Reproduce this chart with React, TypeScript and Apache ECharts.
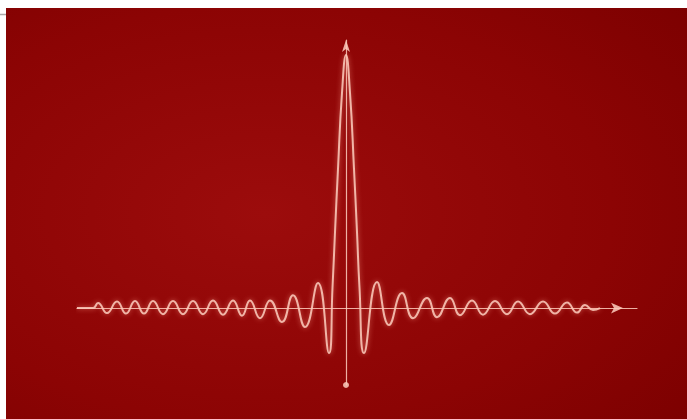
import React, { useEffect, useRef } from "react";
import * as echarts from "echarts";

// Wave: position along the axis, height (main peak = 1)
const waveT = [
  -26.9, -25.3, -24.8, -23.9, -22.9, -22.0, -21.1, -20.2, -19.3, -18.3, -17.3, -16.3,
  -15.3, -14.3, -13.3, -12.3, -11.3, -10.4, -9.6, -8.6, -7.6, -6.4, -5.3, -4.1, -2.8,
  -1.7, -1.35, -1.1, -0.8, -0.4, 0, 0.4, 0.8, 1.1, 1.35, 1.8, 3.1, 4.3, 5.6, 6.7, 8.1,
  9.1, 10.4, 11.4, 12.6, 13.7, 14.9, 16.1, 17.2, 18.4, 19.7, 20.9, 22.1, 23.1, 23.9,
  24.7, 25.4,
];
const waveY = [
  0, 0, 0.02, -0.02, 0.026, -0.022, 0.028, -0.022, 0.028, -0.024, 0.028, -0.024,
  0.028, -0.024, 0.03, -0.026, 0.03, -0.03, 0.03, -0.04, 0.03, -0.055, 0.051, -0.075,
  0.099, -0.178, 0.08, 0.3, 0.55, 0.85, 1.0, 0.85, 0.55, 0.3, 0.08, -0.178, 0.103,
  -0.067, 0.059, -0.04, 0.04, -0.036, 0.04, -0.028, 0.03, -0.026, 0.028, -0.024,
  0.026, -0.024, 0.026, -0.022, 0.022, -0.018, 0.012, -0.008, 0,
];
const tRange = [-26.9, 29.1];
const yRange = [-0.304, 1.059];

export default function App() {
  const ref = useRef<HTMLDivElement>(null);
  useEffect(() => {
    document.body.style.margin = "0";
    const chart = echarts.init(ref.current!, null, { renderer: "svg" });
    const lineColor = "rgba(250,200,185,0.88)";
    chart.setOption({
      animation: false,
      graphic: [
        {
          type: "rect",
          z: -10,
          shape: { x: 6, y: 8, width: 681, height: 411 },
          style: {
            fill: new echarts.graphic.RadialGradient(0.38, 0.5, 0.85, [
              { offset: 0, color: "#9c0c0c" },
              { offset: 0.6, color: "#8c0404" },
              { offset: 1, color: "#7a0000" },
            ]),
          },
        },
        {
          type: "line",
          shape: { x1: 0, y1: 14.5, x2: 6, y2: 14.5 },
          style: { stroke: "#aaaaaa", lineWidth: 1.5 },
        },
      ],
      grid: { left: 77, right: 50, top: 40, bottom: 34 },
      xAxis: {
        type: "value",
        min: tRange[0],
        max: tRange[1],
        axisLine: {
          onZero: true,
          symbol: ["none", "arrow"],
          symbolSize: [8, 12],
          symbolOffset: [0, -14],
          lineStyle: { color: lineColor, width: 1.2 },
        },
        axisTick: { show: false },
        axisLabel: { show: false },
        splitLine: { show: false },
      },
      yAxis: {
        type: "value",
        min: yRange[0],
        max: yRange[1],
        axisLine: {
          onZero: true,
          symbol: ["circle", "arrow"],
          symbolSize: [6, 12],
          lineStyle: { color: lineColor, width: 1.2 },
        },
        axisTick: { show: false },
        axisLabel: { show: false },
        splitLine: { show: false },
      },
      series: [
        {
          type: "line",
          data: waveT.map((t, i) => [t, waveY[i]]),
          smooth: 0.5,
          showSymbol: false,
          lineStyle: {
            color: lineColor,
            width: 2,
            shadowBlur: 5,
            shadowColor: "rgba(255,160,140,0.7)",
          },
        },
      ],
    });
    return () => chart.dispose();
  }, []);
  return <div ref={ref} style={{ width: 687, height: 419 }} />;
}
